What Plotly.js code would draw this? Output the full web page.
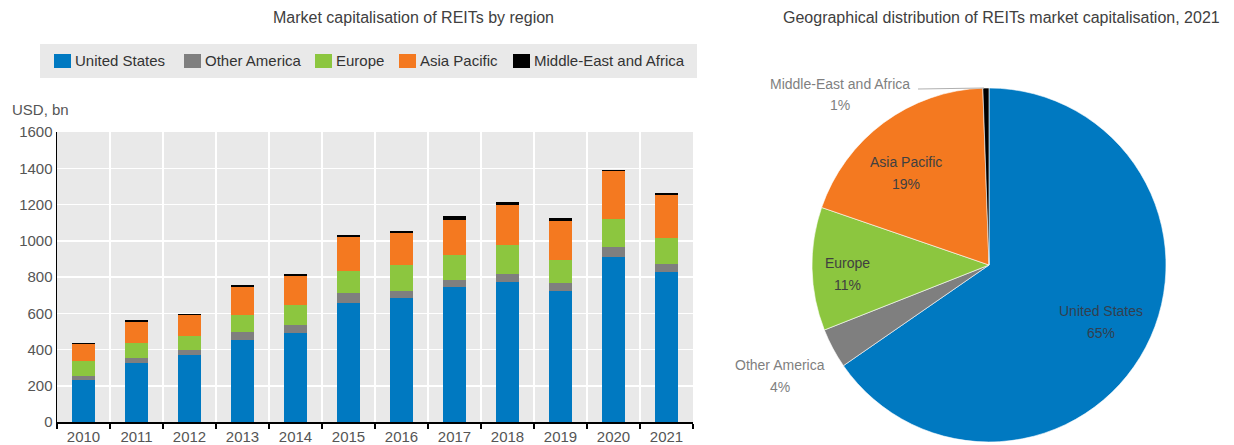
<!DOCTYPE html>
<html>
<head>
<meta charset="utf-8">
<script src="https://cdn.plot.ly/plotly-3.0.1.min.js"></script>
<style>html,body{margin:0;padding:0;background:#fff;}#chart{width:1234px;height:445px;}</style>
</head>
<body>
<div id="chart"></div>
<script>
// ---- Data (USD bn) ----
const years = ['2010','2011','2012','2013','2014','2015','2016','2017','2018','2019','2020','2021'];
const seriesNames = ['United States','Other America','Europe','Asia Pacific','Middle-East and Africa'];
const unitedStates = [230, 323, 367, 452, 489, 659, 686, 747, 771, 725, 908, 825];
const otherAmerica = [25, 31, 33, 46, 46, 50, 39, 39, 48, 41, 55, 46];
const europe       = [83, 83, 76, 92, 111, 125, 140, 133, 159, 129, 159, 142];
const asiaPacific  = [92, 117, 113, 157, 157, 185, 176, 196, 221, 212, 262, 242];
const meAfrica     = [5, 7, 7, 10, 16, 12, 13, 24, 15, 17, 7, 7];
const yTicks = [0, 200, 400, 600, 800, 1000, 1200, 1400, 1600];

const seriesValues = [unitedStates, otherAmerica, europe, asiaPacific, meAfrica];
const colors = ['#0079c1', '#7f7f7f', '#8cc63f', '#f47920', '#000000'];

const W = 1234, H = 445;
const px = x => x / W;
const py = y => 1 - y / H;
const FONT = 'Liberation Sans, Arial, sans-serif';

const traces = seriesValues.map((vals, i) => ({
  type: 'bar', x: years, y: vals, name: seriesNames[i],
  marker: {color: colors[i]}, showlegend: false,
  hovertemplate: '%{x}: %{y}<extra>' + seriesNames[i] + '</extra>'
}));

// Pie for the latest year
const pieValues = seriesValues.map(v => v[v.length - 1]);
traces.push({
  type: 'pie', labels: seriesNames, values: pieValues, sort: false,
  direction: 'clockwise', rotation: 0, textinfo: 'none',
  marker: {colors: colors, line: {color: '#ffffff', width: 0.6}},
  domain: {x: [px(812), px(1166)], y: [py(442), py(88)]},
  showlegend: false
});

const total = pieValues.reduce((a, b) => a + b, 0);
const pct = pieValues.map(v => Math.round(v / total * 100) + '%');

const annotations = [];
const shapes = [];

// Titles
annotations.push({text: 'Market capitalisation of REITs by region', x: px(413), y: py(17),
  xref: 'paper', yref: 'paper', showarrow: false, xanchor: 'center', yanchor: 'middle',
  font: {family: FONT, size: 16, color: '#404040'}});
annotations.push({text: 'Geographical distribution of REITs market capitalisation, 2021', x: px(1001), y: py(17),
  xref: 'paper', yref: 'paper', showarrow: false, xanchor: 'center', yanchor: 'middle',
  font: {family: FONT, size: 16, color: '#404040'}});
annotations.push({text: 'USD, bn', x: px(10), y: py(109), xref: 'paper', yref: 'paper',
  showarrow: false, xanchor: 'left', yanchor: 'middle',
  font: {family: FONT, size: 15, color: '#555555'}});

// Legend (manual)
shapes.push({type: 'rect', xref: 'paper', yref: 'paper', x0: px(40), x1: px(697), y0: py(78), y1: py(44),
  fillcolor: '#e9e9e9', line: {width: 0}, layer: 'below'});
const legendSwatchX = [54, 184, 315, 399, 513];
seriesNames.forEach((n, i) => {
  const x0 = legendSwatchX[i];
  shapes.push({type: 'rect', xref: 'paper', yref: 'paper', x0: px(x0), x1: px(x0 + 17),
    y0: py(68), y1: py(54), fillcolor: colors[i], line: {width: 0}});
  annotations.push({text: n, x: px(x0 + 19), y: py(61), xref: 'paper', yref: 'paper',
    showarrow: false, xanchor: 'left', yanchor: 'middle',
    font: {family: FONT, size: 15, color: '#333333'}});
});

// Pie labels
const pieLabelPos = [
  {x: 1101, y1: 311, y2: 333, color: '#333f4f'},
  {x: 780, y1: 365, y2: 387, color: '#7f7f7f'},
  {x: 847, y1: 263, y2: 285, color: '#404040'},
  {x: 906, y1: 162, y2: 184, color: '#404040'},
  {x: 840, y1: 84, y2: 105, color: '#7f7f7f'}
];
seriesNames.forEach((n, i) => {
  const p = pieLabelPos[i];
  annotations.push({text: n, x: px(p.x), y: py(p.y1), xref: 'paper', yref: 'paper',
    showarrow: false, xanchor: 'center', yanchor: 'middle',
    font: {family: FONT, size: 14, color: p.color}});
  annotations.push({text: pct[i], x: px(p.x), y: py(p.y2), xref: 'paper', yref: 'paper',
    showarrow: false, xanchor: 'center', yanchor: 'middle',
    font: {family: FONT, size: 14, color: p.color}});
});
// leader line for Middle-East and Africa
shapes.push({type: 'line', xref: 'paper', yref: 'paper', x0: px(918), y0: py(89), x1: px(984), y1: py(88),
  line: {color: '#b0b0b0', width: 1.2}});

const layout = {
  width: W, height: H,
  margin: {l: 0, r: 0, t: 0, b: 0},
  paper_bgcolor: '#ffffff',
  plot_bgcolor: '#e9e9e9',
  barmode: 'stack',
  bargap: 0.58,
  showlegend: false,
  font: {family: FONT, size: 15, color: '#555555'},
  xaxis: {
    domain: [px(57), px(693)], type: 'category', tickson: 'boundaries',
    ticks: 'outside', ticklen: 5, tickcolor: '#000', tickwidth: 1.2,
    showgrid: true, gridcolor: '#ffffff', gridwidth: 1.5,
    showline: true, linecolor: '#000', linewidth: 1.5,
    tickfont: {family: FONT, size: 15, color: '#555555'},
    fixedrange: true
  },
  yaxis: {
    domain: [py(422), py(132)], range: [0, 1600], tickvals: yTicks,
    showgrid: true, gridcolor: '#ffffff', gridwidth: 1.5, zeroline: false,
    showline: true, linecolor: '#000', linewidth: 1.5, ticks: '',
    tickfont: {family: FONT, size: 15, color: '#555555'},
    fixedrange: true
  },
  annotations: annotations,
  shapes: shapes
};

Plotly.newPlot('chart', traces, layout, {displayModeBar: false, staticPlot: true});
</script>
</body>
</html>
